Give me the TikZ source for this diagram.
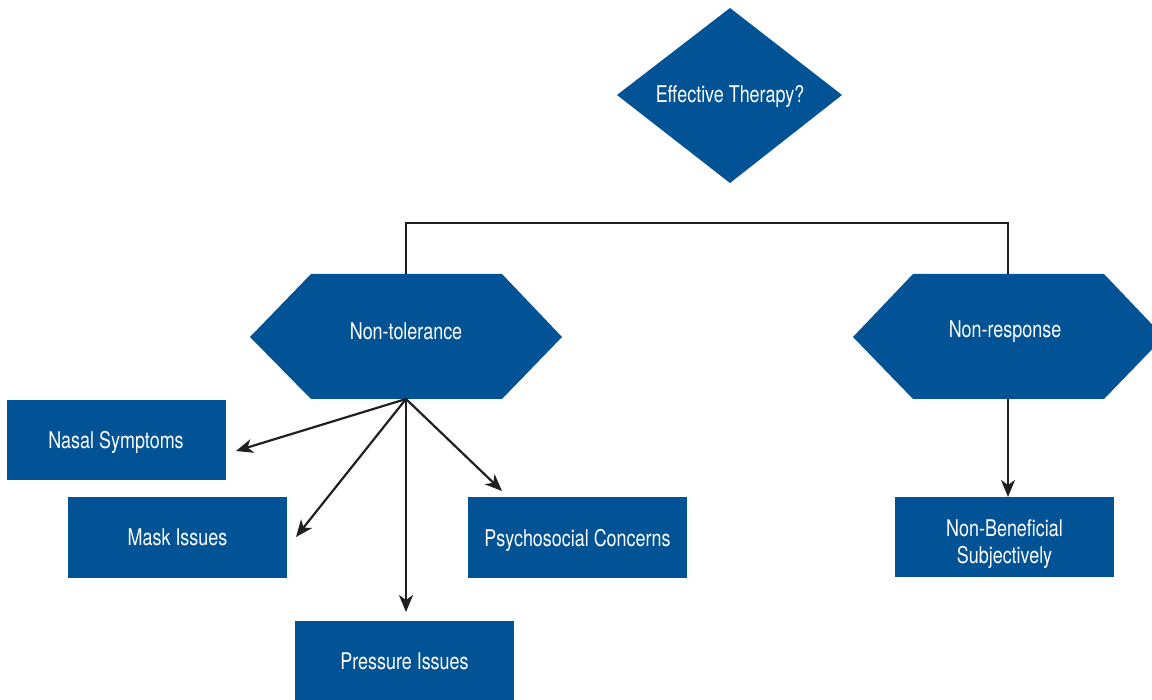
\documentclass[tikz,border=0pt]{standalone}
\usepackage{fontspec}
\setmainfont{TeX Gyre Heros}[FakeStretch=0.78]
\usetikzlibrary{arrows.meta}
\definecolor{boxblue}{RGB}{2,83,149}
\definecolor{linedark}{RGB}{35,31,32}
\tikzset{
  shapefill/.style={fill=boxblue, draw=none},
  lbl/.style={text=white, font=\fontsize{23}{27}\selectfont, align=center, inner sep=0pt},
  bluebox/.style={fill=boxblue, draw=none, text=white, font=\fontsize{23}{27}\selectfont,
    align=center, minimum width=219pt, minimum height=80pt, inner sep=0pt, text depth=0pt},
  conn/.style={draw=linedark, line width=2.2pt},
  arr/.style={conn, -{Stealth[length=17pt,width=14pt,inset=5pt]}},
}
\begin{document}
\begin{tikzpicture}[x=1pt,y=-1pt]
\useasboundingbox (0,0) rectangle (1152,700);
% diamond
\fill[shapefill] (617,95) -- (730,8) -- (842,95) -- (730,183) -- cycle;
\node[lbl] (eff) at (730,96) {Effective Therapy?};
% hexagons
\fill[shapefill] (250,337) -- (311,274) -- (502,274) -- (562,337) -- (502,399) -- (311,399) -- cycle;
\node[lbl] (nt) at (406,331) {Non-tolerance};
\fill[shapefill] (853,337) -- (913,274) -- (1104,274) -- (1164,337) -- (1104,399) -- (913,399) -- cycle;
\node[lbl] (nr) at (1005,332) {Non-response};
\coordinate (nttop) at (406,274);
\coordinate (ntbot) at (406,399);
\coordinate (nrtop) at (1008,274);
\coordinate (nrbot) at (1008,399);
\coordinate (bar) at (406,223);
% boxes
\node[bluebox] (nasal) at (116,440) {Nasal Symptoms};
\node[bluebox] (mask) at (177.5,537.5) {Mask Issues};
\node[bluebox] (psych) at (577.5,537.5) {Psychosocial Concerns};
\node[bluebox] (press) at (404.5,661) {Pressure Issues};
\node[bluebox] (nb) at (1004.5,537) {};
\node[lbl] (nbtext) at (1004.5,544) {Non-Beneficial\\Subjectively};
% connector tree
\draw[conn] (nttop) -- (bar) -| (nrtop);
% arrow tips
\coordinate (tnasal) at (236,451);
\coordinate (tmask) at (296,537);
\coordinate (tpsych) at (502,491);
\coordinate (tpress) at (406,612);
\coordinate (tnb) at (1008,497);
\draw[arr] (ntbot) -- (tnasal);
\draw[arr] (ntbot) -- (tmask);
\draw[arr] (ntbot) -- (tpsych);
\draw[arr] (ntbot) -- (tpress);
\draw[arr] (nrbot) -- (tnb);
\end{tikzpicture}
\end{document}
